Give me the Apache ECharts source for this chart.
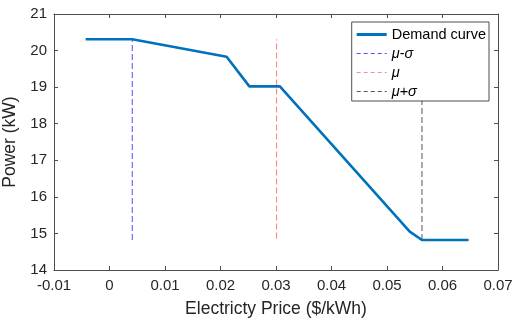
<!DOCTYPE html>
<html><head><meta charset="utf-8">
<script src="https://cdn.jsdelivr.net/npm/echarts@6/dist/echarts.min.js"></script>
<style>html,body{margin:0;padding:0;background:#fff}#c{width:513px;height:325px}</style>
</head><body><div id="c"></div>
<script>
const priceX = [-0.0043, 0.0041, 0.0211, 0.0252, 0.0307, 0.0541, 0.0563, 0.0647];
const powerY = [20.31, 20.31, 19.83, 19.02, 19.02, 15.05, 14.82, 14.82];
const muMinusSigmaX = [0.0041, 0.0041];
const muMinusSigmaY = [14.82, 20.31];
const muX = [0.0301, 0.0301];
const muY = [14.86, 20.31];
const muPlusSigmaX = [0.0563, 0.0563];
const muPlusSigmaY = [14.82, 20.31];
const xTicks = [-0.01, 0, 0.01, 0.02, 0.03, 0.04, 0.05, 0.06, 0.07];
const yTicks = [14, 15, 16, 17, 18, 19, 20, 21];

const zip = (a, b) => a.map((v, i) => [v, b[i]]);
const font = 'Liberation Sans, Arial, Helvetica, sans-serif';
const axisCol = '#4d4d4d';
const txtCol = '#262626';
const cBlue = '#4f4fff', cPink = '#ff8c8c', cGray = '#555555', cCurve = '#0072bd';

const chart = echarts.init(document.getElementById('c'), null, {renderer: 'canvas'});
const baseX = {
  type: 'value', min: xTicks[0], max: xTicks[xTicks.length - 1], interval: 0.01,
  axisLine: {show: true, onZero: false, lineStyle: {color: axisCol, width: 1}},
  axisTick: {show: true, inside: true, length: 4, lineStyle: {color: axisCol}},
  splitLine: {show: false}
};
const baseY = {
  type: 'value', min: yTicks[0], max: yTicks[yTicks.length - 1], interval: 1,
  axisLine: {show: true, onZero: false, lineStyle: {color: axisCol, width: 1}},
  axisTick: {show: true, inside: true, length: 4, lineStyle: {color: axisCol}},
  splitLine: {show: false}
};
const hidden = {color: 'rgba(0,0,0,0)', borderWidth: 0, opacity: 0};
chart.setOption({
  animation: false,
  backgroundColor: '#fff',
  grid: {left: 54, right: 15, top: 14, bottom: 55, containLabel: false, outerBoundsMode: 'none'},
  xAxis: [
    Object.assign({}, baseX, {
      position: 'bottom',
      name: 'Electricty Price ($/kWh)', nameLocation: 'middle', nameGap: 30,
      nameTextStyle: {fontFamily: font, fontSize: 17.5, color: txtCol},
      axisLabel: {fontFamily: font, fontSize: 15, color: txtCol, margin: 8,
        formatter: v => String(+v.toFixed(2))}
    }),
    Object.assign({}, baseX, {position: 'top', axisLabel: {show: false}})
  ],
  yAxis: [
    Object.assign({}, baseY, {
      position: 'left',
      name: 'Power (kW)', nameLocation: 'middle', nameGap: 29,
      nameTextStyle: {fontFamily: font, fontSize: 17.5, color: txtCol},
      axisLabel: {fontFamily: font, fontSize: 15, color: txtCol, margin: 7,
        formatter: v => String(v)}
    }),
    Object.assign({}, baseY, {position: 'right', axisLabel: {show: false}})
  ],
  legend: {
    show: true, right: 24, top: 22, orient: 'vertical',
    backgroundColor: '#fff', borderColor: axisCol, borderWidth: 1,
    padding: [4, 3, 1, 3.5], itemGap: 2, itemWidth: 30, itemHeight: 12,
    textStyle: {fontFamily: font, fontSize: 14.5, color: '#000', lineHeight: 17,
      rich: {i: {fontStyle: 'italic', fontFamily: font, fontSize: 14.5, color: '#000', lineHeight: 17},
             n: {fontFamily: font, fontSize: 14.5, color: '#000', lineHeight: 17}}},
    formatter: name => {
      if (name === 'Demand curve') return name;
      if (name === 'mu-sigma') return '{i|μ}{n|-}{i|σ}';
      if (name === 'mu') return '{i|μ}';
      return '{i|μ}{n|+}{i|σ}';
    },
    data: [
      {name: 'Demand curve', itemStyle: hidden, lineStyle: {color: cCurve, width: 3}},
      {name: 'mu-sigma', itemStyle: hidden, lineStyle: {color: cBlue, width: 1, type: [4, 3]}},
      {name: 'mu', itemStyle: hidden, lineStyle: {color: cPink, width: 1.2, type: [4, 3]}},
      {name: 'mu+sigma', itemStyle: hidden, lineStyle: {color: cGray, width: 1, type: [4, 3]}}
    ]
  },
  series: [
    {name: 'mu-sigma', type: 'line', data: zip(muMinusSigmaX, muMinusSigmaY), showSymbol: false,
      lineStyle: {color: cBlue, width: 1, type: [6, 3]}, itemStyle: {color: 'rgba(0,0,0,0)'}},
    {name: 'mu', type: 'line', data: zip(muX, muY), showSymbol: false,
      lineStyle: {color: cPink, width: 1.2, type: [6, 3]}, itemStyle: {color: 'rgba(0,0,0,0)'}},
    {name: 'mu+sigma', type: 'line', data: zip(muPlusSigmaX, muPlusSigmaY), showSymbol: false,
      lineStyle: {color: cGray, width: 1, type: [6, 3]}, itemStyle: {color: 'rgba(0,0,0,0)'}},
    {name: 'Demand curve', type: 'line', data: zip(priceX, powerY), showSymbol: false,
      lineStyle: {color: cCurve, width: 2.6}, itemStyle: {color: 'rgba(0,0,0,0)'}, z: 5}
  ]
});
</script></body></html>
